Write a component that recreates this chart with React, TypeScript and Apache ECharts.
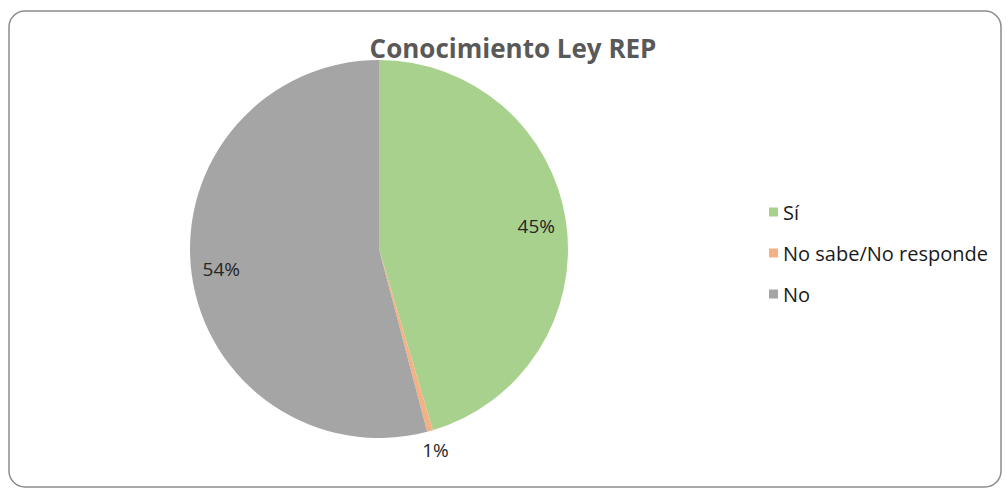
import React, { useEffect, useRef } from "react";
import * as echarts from "echarts";

const TITLE = "Conocimiento Ley REP";
const categories = ["Sí", "No sabe/No responde", "No"];
const values = [45.4, 0.5, 54.1];
const colors = ["#a9d18e", "#f4b183", "#a5a5a5"];

export default function App() {
  const ref = useRef<HTMLDivElement>(null);
  useEffect(() => {
    if (!ref.current) return;
    const chart = echarts.init(ref.current, undefined, { renderer: "svg" });
    const data = categories.map((name, i) => ({
      name,
      value: values[i],
      itemStyle: { color: colors[i] },
    }));
    const font = "'Open Sans', 'Noto Sans', sans-serif";
    const labelStyle = { color: "#262626", fontSize: 19, fontFamily: font };
    const center = [379, 249];
    const overlay = (radius: number, showIdx: number[]) => ({
      type: "pie",
      center,
      radius: [0, radius],
      startAngle: 90,
      clockwise: true,
      silent: true,
      legendHoverLink: false,
      itemStyle: { color: "rgba(0,0,0,0)", borderWidth: 0 },
      emphasis: { disabled: true },
      labelLine: { show: false },
      data: categories.map((name, i) => ({
        name: name + " ",
        value: values[i],
        label: {
          show: showIdx.includes(i),
          position: "inside",
          formatter: (p: any) => Math.round(p.percent) + "%",
          ...labelStyle,
        },
      })),
      z: 5,
    });
    chart.setOption({
      animation: false,
      backgroundColor: "#ffffff",
      title: {
        text: TITLE,
        left: 508,
        top: 30,
        textAlign: "center",
        textStyle: { color: "#595959", fontSize: 26, fontWeight: "bold", fontFamily: font },
      },
      legend: {
        data: categories,
        orient: "vertical",
        left: 764,
        top: 197,
        itemWidth: 9,
        itemHeight: 9,
        itemGap: 21,
        icon: "rect",
        textStyle: { color: "#1a1a1a", fontSize: 20, fontFamily: font },
      },
      graphic: [
        {
          type: "rect",
          shape: { x: 9, y: 11, width: 992, height: 476, r: 16 },
          style: { fill: "none", stroke: "#8c8c8c", lineWidth: 1.5 },
          silent: true,
        },
      ],
      series: [
        {
          type: "pie",
          center,
          radius: [0, 189],
          startAngle: 90,
          clockwise: true,
          label: { show: false },
          labelLine: { show: false },
          itemStyle: { borderWidth: 0 },
          data,
          z: 2,
        },
        overlay(312, [0, 2]),
        overlay(412, [1]),
      ],
    });
    return () => chart.dispose();
  }, []);
  return (
    <div
      ref={ref}
      style={{ position: "absolute", left: 0, top: 0, width: 1006, height: 490 }}
    />
  );
}
